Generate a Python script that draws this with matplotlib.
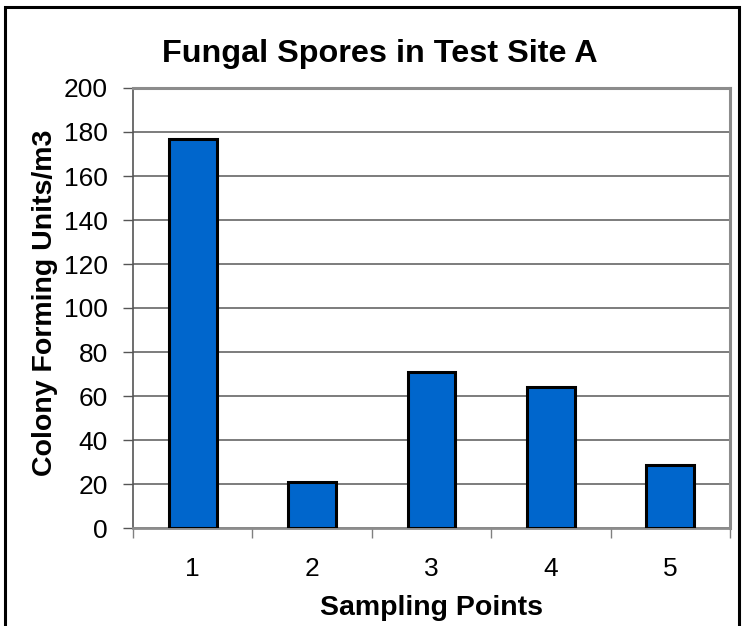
import matplotlib
matplotlib.use("Agg")
import matplotlib.pyplot as plt
from matplotlib.patches import Rectangle
from matplotlib.ticker import FixedLocator

categories = ["1", "2", "3", "4", "5"]
values = [177, 21, 71, 64, 28.6]
yticks = [0, 20, 40, 60, 80, 100, 120, 140, 160, 180, 200]

plt.rcParams['font.family'] = ['Liberation Sans', 'DejaVu Sans']

W, H = 743, 626
fig = plt.figure(figsize=(W / 100, H / 100), dpi=100)

# outer frame
fig.patches.append(Rectangle((5 / W, -0.05), 734 / W, 1.05 - 7 / H, transform=fig.transFigure,
                             fill=False, edgecolor='black', linewidth=2.2, zorder=0))

left, right, top, bottom = 133, 730, 88, 528
ax = fig.add_axes([left / W, 1 - bottom / H, (right - left) / W, (bottom - top) / H])

x = list(range(len(categories)))
ax.bar(x, values, width=0.40, color='#0066CC', edgecolor='black', linewidth=2.2, zorder=3)

ax.set_xlim(-0.5, len(categories) - 0.5)
ax.set_ylim(0, 200)
ax.set_yticks(yticks)
ax.set_yticklabels([str(v) for v in yticks])
ax.set_xticks(x)
ax.set_xticklabels(categories)
ax.xaxis.set_minor_locator(FixedLocator([i - 0.5 for i in range(len(categories) + 1)]))
ax.tick_params(axis='x', which='major', length=0, pad=21, labelsize=19)
ax.tick_params(axis='x', which='minor', length=7, width=1, color='#808080', direction='out')
ax.tick_params(axis='y', length=7, width=1, color='#555555', labelsize=19, pad=11)

ax.grid(axis='y', color='#666666', linewidth=1.2, zorder=0)
ax.set_axisbelow(True)

for side in ['top', 'right']:
    ax.spines[side].set_color('#8c8c8c')
    ax.spines[side].set_linewidth(2.2)
ax.spines['left'].set_color('#555555')
ax.spines['left'].set_linewidth(1.2)
ax.spines['bottom'].set_color('#8c8c8c')
ax.spines['bottom'].set_linewidth(2)

fig.text(380 / W, 1 - 62 / H, "Fungal Spores in Test Site A", fontsize=23.3,
         fontweight='bold', ha='center', va='baseline')
ax.set_xlabel("Sampling Points", fontsize=20.5, fontweight='bold', labelpad=10)
fig.text(45 / W, 1 - 303 / H, "Colony Forming Units/m3", fontsize=20.5, fontweight='bold',
         rotation=90, ha='center', va='center')

fig.savefig("out.png", dpi=100)
